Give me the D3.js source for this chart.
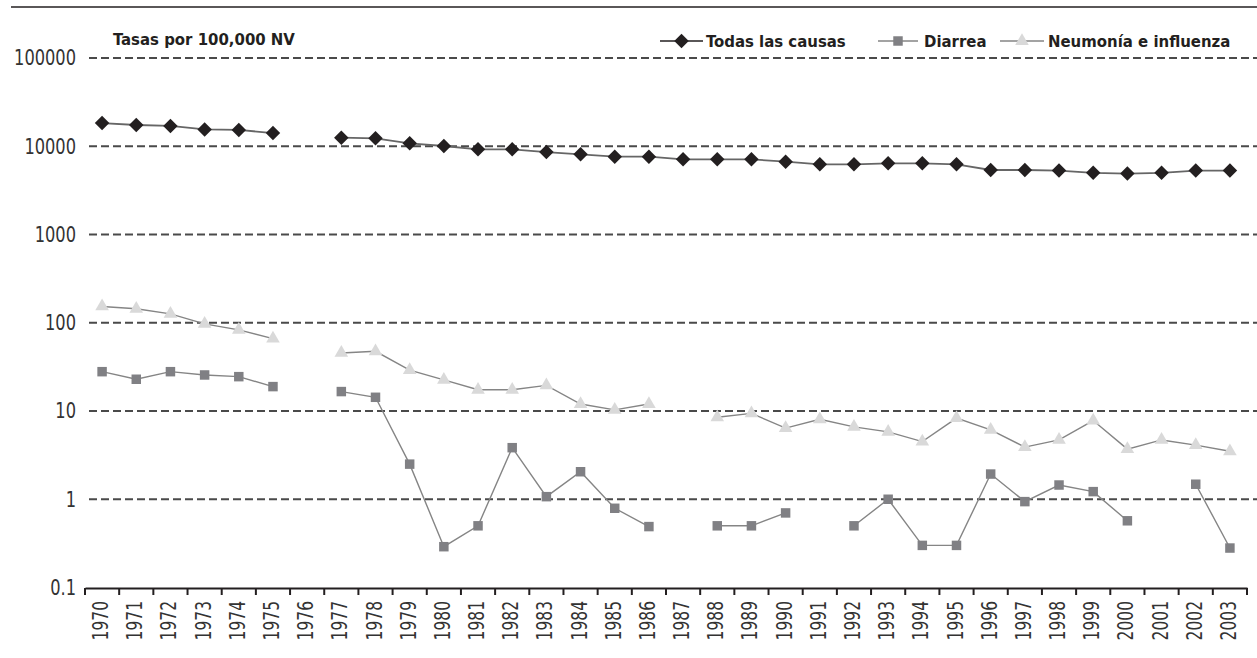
<!DOCTYPE html>
<html>
<head>
<meta charset="utf-8">
<script src="https://cdn.jsdelivr.net/npm/d3@7"></script>
<style>
  html, body { margin: 0; padding: 0; background: #fff; }
  svg { display: block; }
  .lbl { font-family: "Liberation Sans Narrow", "DejaVu Sans Condensed", "Roboto", sans-serif; }
</style>
</head>
<body>
<svg id="chart" width="1257" height="658"></svg>
<script>
// ---- data ----
const years = [1970,1971,1972,1973,1974,1975,1976,1977,1978,1979,1980,1981,1982,1983,1984,1985,1986,1987,1988,1989,1990,1991,1992,1993,1994,1995,1996,1997,1998,1999,2000,2001,2002,2003];
const todas = [18300,17400,17000,15500,15300,14100,null,12500,12300,10800,10070,9230,9230,8600,8100,7620,7620,7110,7110,7110,6680,6240,6240,6410,6410,6240,5380,5380,5300,5000,4900,5000,5300,5300];
const diarrea = [27.9,22.9,27.9,25.6,24.5,18.9,null,16.6,14.3,2.5,0.29,0.50,3.84,1.07,2.05,0.79,0.49,null,0.50,0.50,0.70,null,0.50,1.0,0.30,0.30,1.93,0.94,1.45,1.22,0.57,null,1.48,0.28];
const neumonia = [153,144,126,97,83,66,null,45.5,47.5,29,22.5,17.4,17.4,19.5,12.0,10.3,12.0,null,8.5,9.4,6.4,8.05,6.6,5.8,4.5,8.3,6.1,3.9,4.7,7.8,3.7,4.7,4.1,3.5];
const yTickValues = [0.1,1,10,100,1000,10000,100000];
const yTickLabels = ["0.1","1","10","100","1000","10000","100000"];
const seriesNames = ["Todas las causas","Diarrea","Neumonía e influenza"];
const titleText = "Tasas por 100,000 NV";

// ---- chart ----
const svg = d3.select("#chart");
const x = d3.scaleBand().domain(years).range([85, 1247]).padding(0);
const y = d3.scaleLog().domain([0.1, 100000]).range([587.5, 58]);
const cx = d => x(d) + x.bandwidth() / 2;

// top rule
svg.append("line").attr("x1", 11).attr("x2", 1257).attr("y1", 7).attr("y2", 7)
  .attr("stroke", "#231f20").attr("stroke-width", 1.5);

// gridlines
svg.append("g").selectAll("line").data(yTickValues.filter(v => v > 0.1)).join("line")
  .attr("x1", 89).attr("x2", 1257)
  .attr("y1", d => y(d)).attr("y2", d => y(d))
  .attr("stroke", "#4a4a4a").attr("stroke-width", 2).attr("stroke-dasharray", "8,4");

// y labels (condensed look)
svg.append("g").selectAll("text").data(yTickValues).join("text")
  .attr("class", "lbl")
  .attr("transform", d => `translate(76,${y(d)}) scale(0.88,1)`)
  .attr("x", 0).attr("y", 0).attr("dy", "0.36em")
  .attr("text-anchor", "end").attr("font-size", 20.5).attr("fill", "#333")
  .text((d, i) => yTickLabels[i]);

// x axis
const xAxis = d3.axisBottom(x).tickSizeInner(0).tickSizeOuter(0).tickPadding(0);
const gx = svg.append("g").attr("transform", "translate(0,588)").call(xAxis);
gx.select(".domain").attr("stroke", "#231f20").attr("stroke-width", 2);
gx.selectAll(".tick text")
  .attr("class", "lbl")
  .attr("font-size", 21).attr("fill", "#333")
  .attr("text-anchor", "end")
  .attr("transform", "translate(6,13) rotate(-90) scale(0.82,1)")
  .attr("x", 0).attr("y", 0).attr("dy", 0);
// ticks at band boundaries
const bounds = years.map(d => x(d)).concat([x.range()[1]]);
svg.append("g").selectAll("line").data(bounds).join("line")
  .attr("x1", d => d).attr("x2", d => d).attr("y1", 588).attr("y2", 595)
  .attr("stroke", "#231f20").attr("stroke-width", 2);

// series
const mk = arr => years.map((yr, i) => ({ year: yr, v: arr[i] }));
const line = d3.line().defined(d => d.v != null).x(d => cx(d.year)).y(d => y(d.v));

const sTodas = mk(todas), sDiar = mk(diarrea), sNeu = mk(neumonia);

svg.append("path").datum(sNeu).attr("d", line).attr("fill", "none").attr("stroke", "#858585").attr("stroke-width", 1.4);
svg.append("path").datum(sDiar).attr("d", line).attr("fill", "none").attr("stroke", "#858585").attr("stroke-width", 1.4);
svg.append("path").datum(sTodas).attr("d", line).attr("fill", "none").attr("stroke", "#666").attr("stroke-width", 1.8);

const diaSym = d3.symbol(d3.symbolSquare, 105)();
const squareSym = d3.symbol(d3.symbolSquare, 90)();
const triSym = d3.symbol(d3.symbolTriangle, 80)();

svg.append("g").selectAll("path").data(sNeu.filter(d => d.v != null)).join("path")
  .attr("d", triSym).attr("fill", "#d9d9d9")
  .attr("transform", d => `translate(${cx(d.year)},${y(d.v)})`);
svg.append("g").selectAll("path").data(sDiar.filter(d => d.v != null)).join("path")
  .attr("d", squareSym).attr("fill", "#808084")
  .attr("transform", d => `translate(${cx(d.year)},${y(d.v)})`);
svg.append("g").selectAll("path").data(sTodas.filter(d => d.v != null)).join("path")
  .attr("d", diaSym).attr("fill", "#231f20")
  .attr("transform", d => `translate(${cx(d.year)},${y(d.v)}) rotate(45)`);

// title
svg.append("text").attr("class", "lbl").attr("x", 113).attr("y", 45)
  .attr("font-size", 16.6).attr("font-weight", "bold").attr("fill", "#231f20").text(titleText);

// legend
const legend = [
  { name: seriesNames[0], x0: 660, x1: 703, sym: diaSym, rot: 45, fill: "#231f20", stroke: "#231f20", tx: 706 },
  { name: seriesNames[1], x0: 878, x1: 918, sym: squareSym, rot: 0, fill: "#808084", stroke: "#858585", tx: 924 },
  { name: seriesNames[2], x0: 1000, x1: 1044, sym: triSym, rot: 0, fill: "#d9d9d9", stroke: "#858585", tx: 1048 }
];
const lg = svg.append("g").selectAll("g").data(legend).join("g");
lg.append("line").attr("x1", d => d.x0).attr("x2", d => d.x1).attr("y1", 41).attr("y2", 41)
  .attr("stroke", d => d.stroke).attr("stroke-width", 1.6);
lg.append("path").attr("d", d => d.sym).attr("fill", d => d.fill)
  .attr("transform", d => `translate(${(d.x0 + d.x1) / 2},41) rotate(${d.rot})`);
lg.append("text").attr("class", "lbl").attr("x", d => d.tx).attr("y", 47)
  .attr("font-size", 16.6).attr("font-weight", "bold").attr("fill", "#231f20").text(d => d.name);
</script>
</body>
</html>
